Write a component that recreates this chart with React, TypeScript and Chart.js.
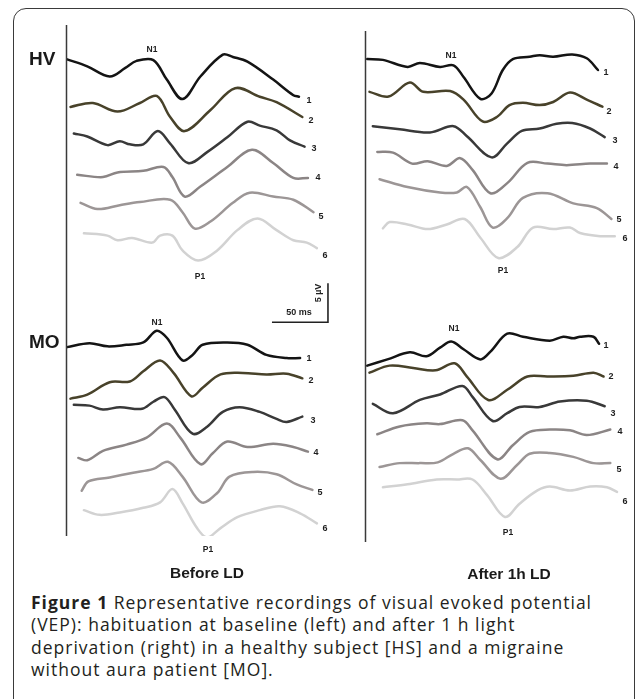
import React, { useEffect, useRef } from "react";
import { Chart, registerables } from "chart.js";

Chart.register(...registerables);

// ---------- data: time (ms from sweep start) and amplitude (µV relative to trace start, P1 direction positive, drawn downward) ----------
const TRACE_NUMBERS = ["1", "2", "3", "4", "5", "6"];

const HV_BEFORE_MS = [
  [1, 19, 39, 53, 63, 78, 90, 104, 120, 140, 149, 162, 185, 203, 208],
  [4, 24, 46, 66, 81, 93, 106, 129, 151, 173, 188, 211],
  [7, 19, 37, 48, 57, 69, 82, 93, 109, 126, 144, 162, 173, 188, 200, 213],
  [10, 33, 46, 69, 87, 95, 106, 120, 144, 166, 185, 203, 216],
  [13, 28, 48, 66, 93, 104, 115, 129, 149, 164, 185, 203, 221],
  [16, 37, 46, 59, 77, 84, 95, 104, 118, 135, 153, 171, 188, 203, 215, 224],
];
const HV_BEFORE_UV = [
  [0, 0.9, 2.2, 1.1, 0.2, 0.1, 2.6, 5.1, 2.2, -0.6, -0.3, 0.3, 2.6, 4.6, 4.8],
  [0, -0.5, 0.6, -0.5, -1.4, 1.3, 3.1, 0.4, -2.4, -1.3, -0.6, 1.3],
  [0, 0.4, 1.5, 1.0, 1.4, 1.4, -0.3, 1.3, 3.8, 2.4, 0.5, -1.5, -1.0, -0.4, 0.9, 1.7],
  [0, 0.3, -0.3, -0.5, -1.0, 0.3, 2.8, 1.5, -1.0, -3.2, -1.5, 0.4, 0.4],
  [0, 0.8, 0.3, -0.1, -0.4, 1.2, 3.3, 2.4, 0, -1.3, -0.8, -0.4, 1.2],
  [0, 0.3, 0.9, 0.6, 1.2, 0.3, 0.3, 2.2, 3.5, 2.2, -0.4, -1.9, -0.4, 0.9, 1.2, 1.9],
];

const MO_BEFORE_MS = [
  [1, 21, 37, 54, 69, 81, 90, 104, 113, 122, 144, 162, 179, 197, 209],
  [4, 19, 39, 57, 69, 84, 96, 112, 122, 138, 158, 179, 197, 211],
  [7, 21, 33, 48, 68, 78, 88, 97, 113, 126, 140, 155, 173, 188, 197, 211],
  [11, 19, 33, 54, 72, 90, 102, 120, 131, 144, 162, 185, 203, 216],
  [14, 20, 39, 60, 78, 91, 104, 121, 135, 146, 167, 188, 206, 220],
  [16, 30, 48, 69, 84, 95, 104, 117, 126, 138, 153, 173, 191, 209, 224],
];
const MO_BEFORE_UV = [
  [0, -0.5, -0.1, -0.3, -0.6, -2.1, -1.2, 1.7, 1.0, -0.3, -0.6, -0.3, 1.0, 1.4, 1.4],
  [0, -0.5, -2.1, -2.2, -3.5, -4.9, -3.3, -0.3, -1.4, -3.1, -3.3, -3.1, -3.2, -2.6],
  [0, 0.1, 0.6, 0.3, 0.5, -0.4, -1.0, 0.6, 3.7, 2.8, 0.9, 0.3, 0.9, 1.8, 2.2, 1.5],
  [0, 0.3, -0.9, -1.7, -2.6, -4.4, -2.6, 0.8, -0.6, -2.1, -1.4, -1.8, -1.4, -0.8],
  [0, -1.2, -1.7, -2.3, -2.8, -3.7, -1.8, 1.5, 0.3, -1.8, -2.4, -2.1, -0.8, -0.1],
  [0, 0.6, 0.3, -0.3, -1.0, -2.7, -0.9, 2.3, 3.5, 2.3, 0.9, 0, -0.5, 0.4, 1.7],
];

const HV_AFTER_MS = [
  [2, 16, 38, 49, 67, 79, 88, 103, 113, 123, 132, 147, 156, 168, 185, 198, 208],
  [4, 21, 40, 52, 76, 88, 105, 118, 129, 141, 156, 168, 183, 198, 212],
  [7, 31, 58, 79, 91, 113, 127, 140, 156, 171, 185, 201, 214],
  [11, 25, 42, 56, 73, 85, 96, 112, 127, 145, 163, 180, 201, 216],
  [13, 38, 67, 82, 91, 103, 114, 127, 141, 163, 186, 207, 220],
  [16, 22, 38, 56, 73, 89, 103, 119, 136, 150, 168, 183, 192, 210, 223],
];
const HV_AFTER_UV = [
  [0, 0.1, 1.0, 0.5, 1.0, 0.8, 2.3, 5.1, 4.4, 1.4, 0, -0.3, -0.5, -0.3, -0.6, -0.1, 1.4],
  [0, 0.6, -1.2, 0, -0.1, 1.0, 3.8, 3.2, 1.7, 1.4, 1.7, 1.3, 0.1, 1.0, 1.9],
  [0, 0.4, 0.8, 0, 1.3, 4.0, 2.2, 0.6, 0.3, -0.3, -0.4, 0.3, 1.4],
  [0, 0.1, 1.5, 1.2, 1.8, 0.8, 2.3, 5.3, 4.0, 1.4, 1.5, 1.7, 1.5, 1.5],
  [0, 1.0, 1.7, 1.7, 1.0, 3.6, 6.2, 5.0, 2.4, 1.8, 3.1, 3.7, 5.1],
  [0, -0.8, -0.5, 0.1, -0.5, -1.2, 1.2, 3.8, 2.4, -0.1, 0.1, -0.1, 0.6, 1.0, 1.0],
];

const MO_AFTER_MS = [
  [2, 20, 40, 55, 67, 77, 88, 103, 112, 127, 141, 165, 177, 186, 192, 204, 209],
  [4, 22, 43, 63, 80, 91, 110, 127, 145, 163, 186, 204, 213],
  [7, 25, 49, 67, 87, 96, 114, 127, 138, 156, 174, 198, 214],
  [11, 31, 55, 67, 87, 96, 118, 132, 147, 165, 183, 198, 219],
  [13, 31, 49, 65, 79, 92, 103, 121, 136, 147, 165, 186, 204, 219],
  [16, 38, 64, 82, 96, 109, 125, 138, 154, 165, 183, 201, 216, 225],
];
const MO_AFTER_UV = [
  [0, -0.8, -1.7, -1.2, -2.3, -3.1, -2.1, -0.8, -1.8, -4.1, -3.7, -3.2, -3.7, -3.5, -3.7, -3.7, -2.8],
  [0, -0.9, -0.6, -0.3, -1.2, 0.5, 3.5, 2.2, 0.5, 0.5, 0.4, 0, 0.5],
  [0, 1.2, -0.5, -1.2, -2.3, -0.9, 2.2, 1.2, 0.4, 0.4, -0.3, -0.4, 0.3],
  [0, -1.0, -1.4, -1.3, -1.8, -0.5, 3.2, 1.4, -0.3, -0.6, -0.5, 0.1, -0.6],
  [0, -0.5, -0.5, -0.6, -1.7, -2.4, -0.9, 1.5, -0.3, -1.7, -1.8, -1.3, -0.5, -0.5],
  [0, -0.4, -1.0, -1.0, -1.0, 1.0, 3.8, 2.1, 0.4, -0.1, 0.4, -0.1, 0, 0.6],
];

const SCALE_BAR_MS = 50;
const SCALE_BAR_UV = 5;

// ---------- layout (positions / styles) ----------
const PX_PER_MS = 1.12;
const PX_PER_UV = 7.8;
const AREA_W = 264;
const AREA_H = 511;
const X_MAX = AREA_W / PX_PER_MS;
const Y_MAX = AREA_H / PX_PER_UV;

// vertical stacking of the traces: µV below the top of each column
const LEFT_HV_OFFSETS = [4.4, 10.5, 13.9, 19.2, 22.8, 26.7];
const LEFT_MO_OFFSETS = [41.3, 47.9, 48.7, 55.5, 59.7, 62.2];
const RIGHT_HV_OFFSETS = [3.6, 7.8, 12.2, 15.5, 19.0, 25.3];
const RIGHT_MO_OFFSETS = [42.9, 43.8, 47.8, 51.7, 55.9, 58.5];
const SCALE_BAR_CORNER = { ms: 233.9, uv: 38.1 };

const TRACE_COLORS = ["#141414", "#48422a", "#393939", "#8b8585", "#9c9696", "#d2d2d2"];

const LEFT_HV_NUM_POS = [[309, 100], [311, 120], [314, 148], [318, 177], [321, 216], [325, 255]];
const RIGHT_HV_NUM_POS = [[606, 72], [609, 111], [615, 140], [616, 166], [619, 219], [625, 238]];
const LEFT_MO_NUM_POS = [[309, 358], [311, 380], [313, 420], [316, 452], [320, 492], [325, 528]];
const RIGHT_MO_NUM_POS = [[606, 345], [611, 376], [613, 413], [620, 431], [619, 469], [625, 501]];
const PEAK_LABELS = [
  { text: "N1", x: 152, y: 49 }, { text: "P1", x: 200, y: 276 },
  { text: "N1", x: 451, y: 55 }, { text: "P1", x: 503, y: 270 },
  { text: "N1", x: 157, y: 322 }, { text: "P1", x: 208, y: 549 },
  { text: "N1", x: 454, y: 328 }, { text: "P1", x: 508, y: 532 },
];

const CAPTION_LINES = [
  "Representative recordings of visual evoked potential",
  "(VEP): habituation at baseline (left) and after 1 h light",
  "deprivation (right) in a healthy subject [HS] and a migraine",
  "without aura patient [MO].",
];

function buildDatasets(times: number[][], uvs: number[][], offsets: number[]) {
  return times.map((ts, i) => ({
    data: ts.map((t, j) => ({ x: t, y: offsets[i] + uvs[i][j] })),
    borderColor: TRACE_COLORS[i],
    borderWidth: 2.5,
    pointRadius: 0,
    tension: 0.35,
    borderCapStyle: "round",
    borderJoinStyle: "round",
    fill: false,
  }));
}

function makeDecor(withScaleBar: boolean) {
  return {
    id: "decor",
    afterDatasetsDraw(chart: any) {
      const { ctx, chartArea } = chart;
      ctx.save();
      ctx.strokeStyle = "#3a3a3a";
      ctx.lineWidth = 1.5;
      ctx.beginPath();
      ctx.moveTo(chartArea.left + 0.5, chartArea.top);
      ctx.lineTo(chartArea.left + 0.5, chartArea.bottom);
      ctx.stroke();
      if (withScaleBar) {
        const xs = chart.scales.x;
        const ys = chart.scales.y;
        const cx = xs.getPixelForValue(SCALE_BAR_CORNER.ms);
        const cy = ys.getPixelForValue(SCALE_BAR_CORNER.uv);
        const x0 = xs.getPixelForValue(SCALE_BAR_CORNER.ms - SCALE_BAR_MS);
        const y0 = ys.getPixelForValue(SCALE_BAR_CORNER.uv - SCALE_BAR_UV);
        ctx.strokeStyle = "#222";
        ctx.lineWidth = 1.6;
        ctx.beginPath();
        ctx.moveTo(x0, cy);
        ctx.lineTo(cx, cy);
        ctx.lineTo(cx, y0);
        ctx.stroke();
      }
      ctx.restore();
    },
  };
}

type ColumnProps = {
  left: number;
  width: number;
  height: number;
  padding: { left: number; top: number; right: number; bottom: number };
  datasets: any[];
  scaleBar: boolean;
};

function Column({ left, width, height, padding, datasets, scaleBar }: ColumnProps) {
  const ref = useRef<HTMLCanvasElement>(null);
  useEffect(() => {
    const chart = new Chart(ref.current as HTMLCanvasElement, {
      type: "line",
      data: { datasets },
      options: {
        animation: false,
        responsive: false,
        devicePixelRatio: 1,
        layout: { padding },
        plugins: { legend: { display: false }, tooltip: { enabled: false }, title: { display: false } },
        scales: {
          x: { type: "linear", min: 0, max: X_MAX, display: false },
          y: { type: "linear", min: 0, max: Y_MAX, reverse: true, display: false },
        },
      },
      plugins: [makeDecor(scaleBar)],
    } as any);
    return () => chart.destroy();
  }, []);
  return (
    <canvas
      ref={ref}
      width={width}
      height={height}
      style={{ position: "absolute", left, top: 0, width, height }}
    />
  );
}

function Label({ text, x, y, size, color = "#222" }: { text: string; x: number; y: number; size: number; color?: string }) {
  return (
    <div
      style={{
        position: "absolute",
        left: x,
        top: y,
        transform: "translate(-50%, -50%)",
        fontFamily: "'Liberation Sans', Arial, sans-serif",
        fontWeight: 700,
        fontSize: size,
        lineHeight: 1,
        color,
        whiteSpace: "nowrap",
      }}
    >
      {text}
    </div>
  );
}

export default function App() {
  const leftSets = [
    ...buildDatasets(HV_BEFORE_MS, HV_BEFORE_UV, LEFT_HV_OFFSETS),
    ...buildDatasets(MO_BEFORE_MS, MO_BEFORE_UV, LEFT_MO_OFFSETS),
  ];
  const rightSets = [
    ...buildDatasets(HV_AFTER_MS, HV_AFTER_UV, RIGHT_HV_OFFSETS),
    ...buildDatasets(MO_AFTER_MS, MO_AFTER_UV, RIGHT_MO_OFFSETS),
  ];
  const numLabels: { text: string; x: number; y: number }[] = [];
  [LEFT_HV_NUM_POS, RIGHT_HV_NUM_POS, LEFT_MO_NUM_POS, RIGHT_MO_NUM_POS].forEach((arr) =>
    arr.forEach((p, i) => numLabels.push({ text: TRACE_NUMBERS[i], x: p[0], y: p[1] }))
  );

  return (
    <div
      style={{
        position: "absolute",
        left: 0,
        top: 0,
        width: 636,
        height: 699,
        overflow: "hidden",
        background: "#fff",
      }}
    >
      <div
        style={{
          position: "absolute",
          left: 13,
          top: 8,
          width: 620,
          height: 760,
          border: "1.5px solid #3a3a3a",
          borderRadius: 13,
        }}
      />
      <Column
        left={0}
        width={340}
        height={560}
        padding={{ left: 66, top: 25, right: 10, bottom: 24 }}
        datasets={leftSets}
        scaleBar={true}
      />
      <Column
        left={340}
        width={296}
        height={560}
        padding={{ left: 25, top: 31, right: 7, bottom: 18 }}
        datasets={rightSets}
        scaleBar={false}
      />
      <div style={{ position: "absolute", left: 29, top: 58, transform: "translateY(-50%)", fontFamily: "'Liberation Sans', Arial, sans-serif", fontWeight: 700, fontSize: 19, lineHeight: 1, color: "#1a1a1a" }}>HV</div>
      <div style={{ position: "absolute", left: 29, top: 341, transform: "translateY(-50%)", fontFamily: "'Liberation Sans', Arial, sans-serif", fontWeight: 700, fontSize: 19, lineHeight: 1, color: "#1a1a1a" }}>MO</div>
      {numLabels.map((l, i) => (
        <Label key={"n" + i} text={l.text} x={l.x} y={l.y} size={9} color="#1e1e1e" />
      ))}
      {PEAK_LABELS.map((l, i) => (
        <Label key={"p" + i} text={l.text} x={l.x} y={l.y} size={8.5} color="#1e1e1e" />
      ))}
      <Label text="50 ms" x={299} y={312} size={9} />
      <div
        style={{
          position: "absolute",
          left: 318,
          top: 293,
          transform: "translate(-50%, -50%) rotate(-90deg)",
          fontFamily: "'Liberation Sans', Arial, sans-serif",
          fontWeight: 700,
          fontSize: 9,
          lineHeight: 1,
          color: "#222",
          whiteSpace: "nowrap",
        }}
      >
        5 µV
      </div>
      <Label text="Before LD" x={207} y={573} size={15.5} color="#1a1a1a" />
      <Label text="After 1h LD" x={509} y={574} size={15.5} color="#1a1a1a" />
      <div
        style={{
          position: "absolute",
          left: 31,
          top: 591,
          fontFamily: "'Open Sans', 'Noto Sans', sans-serif",
          fontSize: 17.5,
          lineHeight: "22.3px",
          letterSpacing: 1.0,
          color: "#231f20",
          whiteSpace: "pre",
        }}
      >
        {CAPTION_LINES.map((line, i) => (
          <div key={i}>
            {i === 0 ? <span style={{ fontWeight: 700 }}>Figure 1 </span> : null}
            {line}
          </div>
        ))}
      </div>
    </div>
  );
}
